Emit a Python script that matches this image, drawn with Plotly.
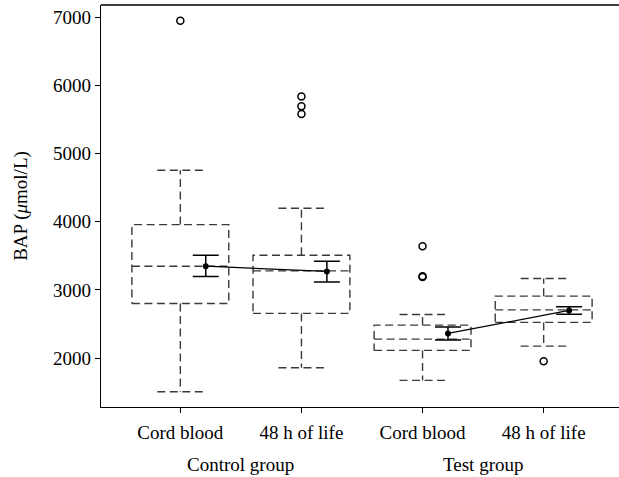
import plotly.graph_objects as go

# ---- data ----
categories = ["Cord blood", "48 h of life", "Cord blood", "48 h of life"]
groups = ["Control group", "Test group"]
positions = [1, 2, 3, 4]
q1 = [2800, 2655, 2113, 2523]
median = [3347, 3278, 2278, 2707]
q3 = [3957, 3508, 2483, 2908]
whisker_low = [1507, 1858, 1673, 2176]
whisker_high = [4753, 4196, 2640, 3167]
outliers = [[6944], [5836, 5690, 5577], [3640, 3200, 3190], [1952]]
means = [3347, 3270, 2361, 2698]
mean_upper = [3508, 3420, 2454, 2751]
mean_lower = [3196, 3117, 2264, 2644]
y_ticks = [2000, 3000, 4000, 5000, 6000, 7000]

# ---- style ----
FONT = "Liberation Serif"
FS = 19
BOX_HALF = 0.4
CAP_HALF = 0.19
MEAN_OFFSET = 0.21
DASH_COLOR = "#3a3a3a"

fig = go.Figure()

# boxes drawn as dashed paths
for i, x in enumerate(positions):
    xs, ys = [], []
    xs += [x - BOX_HALF, x + BOX_HALF, x + BOX_HALF, x - BOX_HALF, x - BOX_HALF, None]
    ys += [q1[i], q1[i], q3[i], q3[i], q1[i], None]
    xs += [x - BOX_HALF, x + BOX_HALF, None]
    ys += [median[i], median[i], None]
    xs += [x, x, None, x, x, None]
    ys += [q3[i], whisker_high[i], None, q1[i], whisker_low[i], None]
    xs += [x - CAP_HALF, x + CAP_HALF, None, x - CAP_HALF, x + CAP_HALF, None]
    ys += [whisker_high[i], whisker_high[i], None, whisker_low[i], whisker_low[i], None]
    fig.add_trace(go.Scatter(
        x=xs, y=ys, mode="lines",
        line=dict(color=DASH_COLOR, width=1.4, dash="8px,4.5px"),
        hoverinfo="skip", showlegend=False))

# outliers
ox, oy = [], []
for i, x in enumerate(positions):
    for v in outliers[i]:
        ox.append(x)
        oy.append(v)
fig.add_trace(go.Scatter(
    x=ox, y=oy, mode="markers",
    marker=dict(symbol="circle-open", size=7, color="black", line=dict(width=1.5)),
    showlegend=False))

# means with error bars, connected within each group
for g in range(2):
    idx = [2 * g, 2 * g + 1]
    mx = [positions[k] + MEAN_OFFSET for k in idx]
    my = [means[k] for k in idx]
    fig.add_trace(go.Scatter(
        x=mx, y=my, mode="lines+markers",
        line=dict(color="black", width=1.3),
        marker=dict(symbol="circle", size=6, color="black"),
        error_y=dict(type="data", symmetric=False,
                     array=[mean_upper[k] - means[k] for k in idx],
                     arrayminus=[means[k] - mean_lower[k] for k in idx],
                     color="black", thickness=1.5, width=13),
        showlegend=False))

# top border line
fig.add_shape(type="line", xref="paper", yref="paper", x0=0, x1=1, y0=1, y1=1,
              line=dict(color="black", width=1.3))

# group labels
for g, name in enumerate(groups):
    fig.add_annotation(x=(positions[2 * g] + positions[2 * g + 1]) / 2, y=-0.142,
                       xref="x", yref="paper", text=name, showarrow=False,
                       font=dict(family=FONT, size=FS, color="black"),
                       yanchor="middle")

fig.update_layout(
    width=619, height=477,
    margin=dict(l=101, r=0, t=5, b=70),
    paper_bgcolor="white", plot_bgcolor="white",
    font=dict(family=FONT, size=FS, color="black"),
    xaxis=dict(range=[0.345, 4.622], tickmode="array", tickvals=positions,
               ticktext=categories, showline=True, linecolor="black", linewidth=1.3,
               ticks="outside", ticklen=5, tickcolor="black", tickwidth=1.3,
               ticklabelstandoff=3,
               showgrid=False, zeroline=False, tickfont=dict(family=FONT, size=FS)),
    yaxis=dict(range=[1283, 7176], tickmode="array", tickvals=y_ticks,
               showline=True, linecolor="black", linewidth=1.3,
               ticks="outside", ticklen=5, tickcolor="black", tickwidth=1.3,
               showgrid=False, zeroline=False, tickfont=dict(family=FONT, size=FS),
               title=dict(text="BAP (<i>μ</i>mol/L)", font=dict(family=FONT, size=FS),
                          standoff=20)),
)

fig.write_html("out.html", config={"displayModeBar": False},
               post_script="document.body.style.margin='0';document.body.style.overflow='hidden';")
